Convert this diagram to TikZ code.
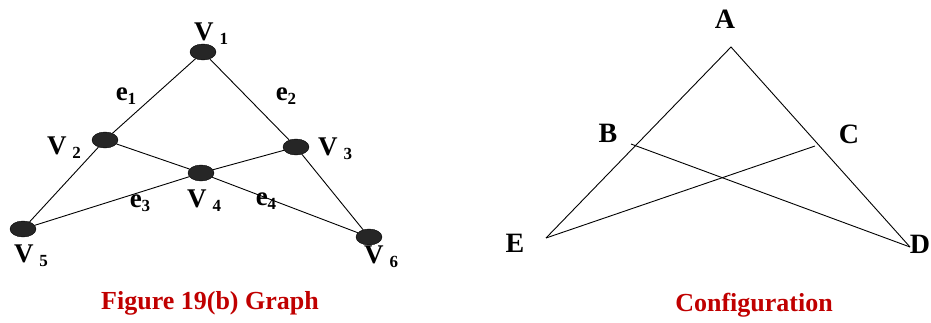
\documentclass[tikz,border=0pt]{standalone}
\usepackage{fontspec}
\setmainfont{Liberation Serif}
\usetikzlibrary{shapes.geometric}
\definecolor{capred}{RGB}{192,0,0}
\newcommand{\vname}[1]{V\hspace{6pt}\raisebox{-4pt}{\fontsize{17}{17}\selectfont #1}}
\newcommand{\ename}[1]{e\raisebox{-4pt}{\fontsize{17}{17}\selectfont #1}}

\begin{document}
\begin{tikzpicture}[x=1pt,y=-1pt,
blob/.style={ellipse,draw=black,fill=black!85,minimum width=26pt,minimum height=16pt,inner sep=0pt},
edge/.style={draw,line width=0.9pt},
lab/.style={font=\fontsize{27}{27}\selectfont\bfseries,inner sep=0pt},
ptlab/.style={font=\fontsize{28}{28}\selectfont\bfseries,inner sep=0pt},
figcap/.style={font=\fontsize{26}{26}\selectfont\bfseries,text=capred,inner sep=0pt}]
 \useasboundingbox (0,0) rectangle (931,322);
 % graph
 \node[blob] (v1) at (203,52) {};
 \node[blob] (v2) at (105,140) {};
 \node[blob] (v3) at (296,147) {};
 \node[blob] (v4) at (201,173) {};
 \node[blob] (v5) at (23,229) {};
 \node[blob] (v6) at (369,237) {};
 \foreach \a/\b in {1/2,1/3,2/4,2/5,3/4,3/6,4/5,4/6}
 \draw[edge] (v\a) -- (v\b);
 \node[lab] (l1) at (211,34) {\vname{1}};
 \node[lab] (l2) at (64,148) {\vname{2}};
 \node[lab] (l3) at (335,149) {\vname{3}};
 \node[lab] (l4) at (204,201) {\vname{4}};
 \node[lab] (l5) at (31,256) {\vname{5}};
 \node[lab] (l6) at (381,257) {\vname{6}};
 \node[lab] (e1) at (126,96) {\ename{1}};
 \node[lab] (e2) at (286,96) {\ename{2}};
 \node[lab] (e3) at (140,203) {\ename{3}};
 \node[lab] (e4) at (266,201) {\ename{4}};
 \node[figcap] (c1) at (210,303) {Figure 19(b) Graph};
 % configuration
 \coordinate (A) at (731,47);
 \coordinate (B) at (631,144);
 \coordinate (C) at (815,146);
 \coordinate (D) at (910,247);
 \coordinate (E) at (546,238);
 \draw[edge] (E) -- (A) -- (D);
 \draw[edge] (B) -- (D);
 \draw[edge] (C) -- (E);
 \node[ptlab] (la) at (725,19) {A};
 \node[ptlab] (lb) at (608,133) {B};
 \node[ptlab] (lc) at (849,134) {C};
 \node[ptlab] (ld) at (920,244) {D};
 \node[ptlab] (le) at (515,243) {E};
 \node[figcap] (c2) at (754,305) {Configuration};
\end{tikzpicture}
\end{document}
